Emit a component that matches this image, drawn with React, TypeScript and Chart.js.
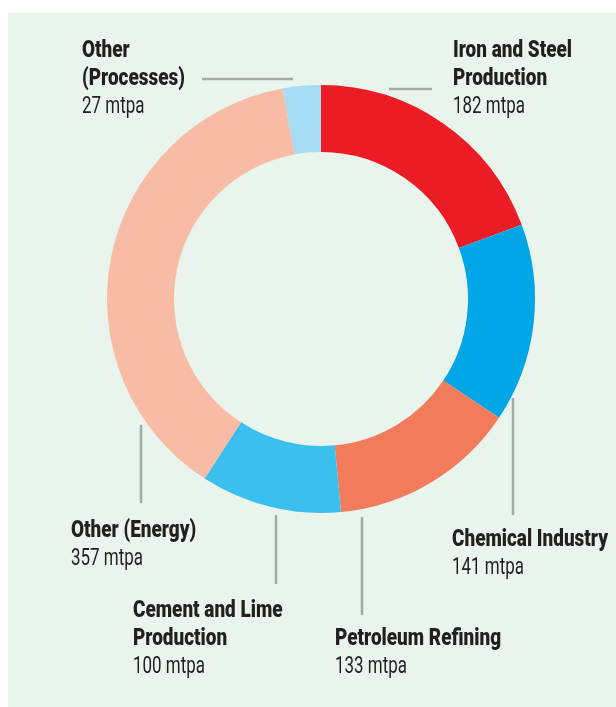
import React, { useEffect, useRef } from "react";
import { Chart, registerables } from "chart.js";

Chart.register(...registerables);

const categories = [
  "Iron and Steel Production",
  "Chemical Industry",
  "Petroleum Refining",
  "Cement and Lime Production",
  "Other (Energy)",
  "Other (Processes)",
];
const values = [182, 141, 133, 100, 357, 27];
const unit = "mtpa";
const colors = ["#ec1c24", "#00a6e6", "#f27b5c", "#3bbfee", "#f8bba6", "#a7dcf5"];

// label layout: title lines, x, first baseline
const labelLayout = [
  { lines: ["Iron and Steel", "Production"], x: 453, y: 57 },
  { lines: ["Chemical Industry"], x: 452, y: 546 },
  { lines: ["Petroleum Refining"], x: 335, y: 645 },
  { lines: ["Cement and Lime", "Production"], x: 133, y: 617 },
  { lines: ["Other (Energy)"], x: 71, y: 537 },
  { lines: ["Other", "(Processes)"], x: 82, y: 57 },
];
const leaders = [
  [389, 89, 432, 89],
  [513, 398, 513, 515],
  [362, 517, 362, 615],
  [276, 515, 276, 584],
  [141, 425, 141, 503],
  [202, 79, 293, 79],
];

const BOLD = "900 24px Roboto, 'Noto Sans', sans-serif";
const REG = "23px Roboto, 'Noto Sans', sans-serif";
const LH = 28;

function drawCondensed(ctx: CanvasRenderingContext2D, text: string, x: number, y: number, k: number) {
  ctx.save();
  ctx.translate(x, y);
  ctx.scale(k, 1);
  ctx.fillText(text, 0, 0);
  ctx.restore();
}

const labelPlugin = {
  id: "labelsAndLeaders",
  afterDraw(chart: any) {
    const ctx = chart.ctx as CanvasRenderingContext2D;
    ctx.save();
    ctx.strokeStyle = "#a3aba7";
    ctx.lineWidth = 2.5;
    leaders.forEach(([x1, y1, x2, y2]) => {
      ctx.beginPath();
      ctx.moveTo(x1, y1);
      ctx.lineTo(x2, y2);
      ctx.stroke();
    });
    ctx.fillStyle = "#231f20";
    ctx.textAlign = "left";
    ctx.textBaseline = "alphabetic";
    ctx.font = BOLD;
    const kb = 156 / ctx.measureText("Chemical Industry").width;
    ctx.font = REG;
    const kr = 72 / ctx.measureText("141 mtpa").width;
    labelLayout.forEach((l, i) => {
      ctx.font = BOLD;
      l.lines.forEach((t, j) => drawCondensed(ctx, t, l.x, l.y + j * LH, kb));
      ctx.font = REG;
      drawCondensed(ctx, `${values[i]} ${unit}`, l.x, l.y + l.lines.length * LH, kr);
    });
    ctx.restore();
  },
};

export default function App() {
  const ref = useRef<HTMLCanvasElement | null>(null);
  useEffect(() => {
    if (!ref.current) return;
    const chart = new Chart(ref.current, {
      type: "doughnut",
      data: {
        labels: categories,
        datasets: [
          {
            data: values,
            backgroundColor: colors,
            borderWidth: 0,
          },
        ],
      },
      options: {
        animation: false,
        responsive: false,
        cutout: 147,
        layout: { padding: { left: 107, right: 81, top: 85, bottom: 194 } },
        plugins: { legend: { display: false }, tooltip: { enabled: false } },
      },
      plugins: [labelPlugin],
    });
    return () => chart.destroy();
  }, []);
  return (
    <div style={{ position: "absolute", left: 0, top: 0, width: 616, height: 707, overflow: "hidden" }}>
      <div style={{ position: "absolute", left: 8, top: 13, right: 0, bottom: 0, background: "#e9f4ed" }} />
      <canvas ref={ref} width={616} height={707} style={{ position: "absolute", left: 0, top: 0, width: 616, height: 707 }} />
    </div>
  );
}
